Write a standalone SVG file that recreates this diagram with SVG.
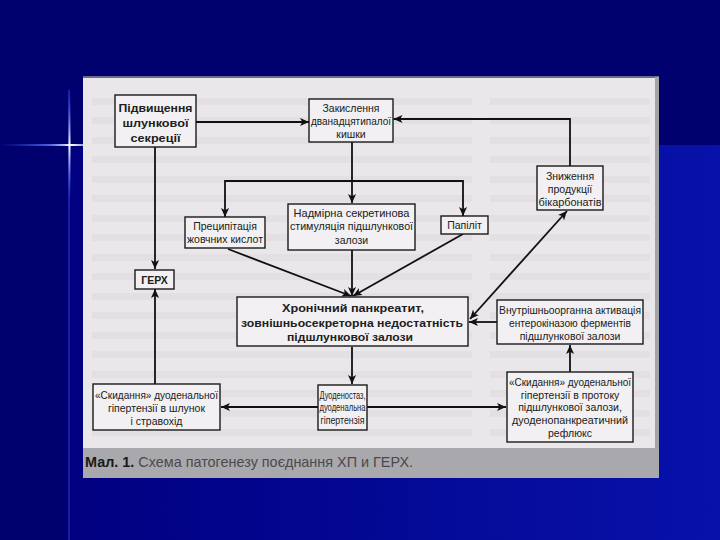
<svg xmlns="http://www.w3.org/2000/svg" width="720" height="540" viewBox="0 0 720 540">
<defs>
<linearGradient id="bgLow" x1="0" y1="0" x2="1" y2="0">
<stop offset="0" stop-color="#000080"/>
<stop offset="1" stop-color="#0812aa"/>
</linearGradient>
<linearGradient id="hStar" x1="0" y1="0" x2="1" y2="0">
<stop offset="0" stop-color="#3050ff" stop-opacity="0"/>
<stop offset="0.6" stop-color="#6080ff" stop-opacity="0.8"/>
<stop offset="0.85" stop-color="#ffffff"/>
<stop offset="1" stop-color="#ffffff" stop-opacity="0.6"/>
</linearGradient>
<linearGradient id="vStar" x1="0" y1="0" x2="0" y2="1">
<stop offset="0" stop-color="#3050ff" stop-opacity="0"/>
<stop offset="0.5" stop-color="#ffffff"/>
<stop offset="1" stop-color="#3050ff" stop-opacity="0"/>
</linearGradient>
<marker id="arr" viewBox="0 0 10 10" refX="10" refY="5" markerUnits="userSpaceOnUse" markerWidth="9" markerHeight="9" orient="auto-start-reverse">
<path d="M0,0.5 L10,5 L0,9.5 L2.5,5 z" fill="#111"/>
</marker>
<style>
.box{fill:#f2f0f2;stroke:#1a1a1a;stroke-width:1.4}
.t{font-family:"Liberation Sans",Arial,sans-serif;font-size:10.5px;fill:#202020;text-anchor:middle}
.b{font-weight:bold}
.c{stroke:#111;stroke-width:1.8;fill:none}
.g{fill:#cfccd2;opacity:0.28}
</style>
</defs>
<!-- background -->
<rect x="0" y="0" width="720" height="540" fill="#00006e"/>
<rect x="69" y="145" width="651" height="395" fill="url(#bgLow)"/>
<rect x="68" y="90" width="2" height="450" fill="#2a3ad0" opacity="0.55"/>
<rect x="0" y="144" width="84" height="2" fill="url(#hStar)"/>
<rect x="68.5" y="88" width="2" height="115" fill="url(#vStar)"/>
<!-- scanned paper -->
<rect x="83" y="77" width="576" height="401" fill="#eae7eb"/>
<rect x="83" y="76" width="576" height="2" fill="#6a6a8a"/>
<rect x="655" y="77" width="4" height="401" fill="#a4a3a8"/>
<g id="ghost">
<rect class="g" x="92" y="98" width="380" height="7"/><rect class="g" x="490" y="98" width="160" height="7"/>
<rect class="g" x="92" y="117" width="380" height="7"/><rect class="g" x="490" y="117" width="160" height="7"/>
<rect class="g" x="92" y="137" width="380" height="7"/><rect class="g" x="490" y="137" width="160" height="7"/>
<rect class="g" x="92" y="156" width="380" height="7"/><rect class="g" x="490" y="156" width="160" height="7"/>
<rect class="g" x="92" y="176" width="380" height="7"/><rect class="g" x="490" y="176" width="160" height="7"/>
<rect class="g" x="92" y="195" width="380" height="7"/><rect class="g" x="490" y="195" width="160" height="7"/>
<rect class="g" x="92" y="215" width="380" height="7"/><rect class="g" x="490" y="215" width="160" height="7"/>
<rect class="g" x="92" y="234" width="380" height="7"/><rect class="g" x="490" y="234" width="160" height="7"/>
<rect class="g" x="92" y="254" width="380" height="7"/><rect class="g" x="490" y="254" width="160" height="7"/>
<rect class="g" x="92" y="273" width="380" height="7"/><rect class="g" x="490" y="273" width="160" height="7"/>
<rect class="g" x="92" y="293" width="380" height="7"/><rect class="g" x="490" y="293" width="160" height="7"/>
<rect class="g" x="92" y="312" width="380" height="7"/><rect class="g" x="490" y="312" width="160" height="7"/>
<rect class="g" x="92" y="332" width="380" height="7"/><rect class="g" x="490" y="332" width="160" height="7"/>
<rect class="g" x="92" y="351" width="380" height="7"/><rect class="g" x="490" y="351" width="160" height="7"/>
<rect class="g" x="92" y="371" width="380" height="7"/><rect class="g" x="490" y="371" width="160" height="7"/>
<rect class="g" x="92" y="390" width="380" height="7"/><rect class="g" x="490" y="390" width="160" height="7"/>
<rect class="g" x="92" y="410" width="380" height="7"/><rect class="g" x="490" y="410" width="160" height="7"/>
<rect class="g" x="92" y="429" width="380" height="7"/><rect class="g" x="490" y="429" width="160" height="7"/>
</g>
<!-- caption band -->
<rect x="83" y="448" width="576" height="30" fill="#a9a8ac"/>
<text x="85" y="467" font-family="'Liberation Sans',Arial,sans-serif" font-size="14.5" fill="#2a2a2a" textLength="328" lengthAdjust="spacingAndGlyphs"><tspan font-weight="bold" fill="#1a1a1a">Мал. 1.</tspan><tspan fill="#4a4a4e"> Схема патогенезу поєднання ХП и ГЕРХ.</tspan></text>

<!-- connectors -->
<g id="connectors">
<path class="c" d="M196,122 H309" marker-end="url(#arr)"/>
<path class="c" d="M570,166 V119 H393.5" marker-end="url(#arr)"/>
<path class="c" d="M352,142 V203" marker-end="url(#arr)"/>
<path class="c" d="M352,181 H225 V217" marker-end="url(#arr)"/>
<path class="c" d="M352,181 H463 V216" marker-end="url(#arr)"/>
<path class="c" d="M228,249 L351,296" marker-end="url(#arr)"/>
<path class="c" d="M352,250 V296" marker-end="url(#arr)"/>
<path class="c" d="M463,234 L353,296" marker-end="url(#arr)"/>
<path class="c" d="M497,322 H469" marker-end="url(#arr)"/>
<path class="c" d="M470,319 L567,211" marker-start="url(#arr)" marker-end="url(#arr)"/>
<path class="c" d="M570,372 V345" marker-end="url(#arr)"/>
<path class="c" d="M352,347 V384" marker-end="url(#arr)"/>
<path class="c" d="M318,407 H221" marker-end="url(#arr)"/>
<path class="c" d="M367,407 H506" marker-end="url(#arr)"/>
<path class="c" d="M155,384 V289" marker-end="url(#arr)"/>
<path class="c" d="M155,147 V269" marker-end="url(#arr)"/>
</g>

<!-- nodes -->
<g id="n-pidvyshchennia">
<rect class="box" x="115" y="95" width="81" height="52"/>
<text class="t b" font-size="13" x="155.5" y="112" textLength="74" lengthAdjust="spacingAndGlyphs">Підвищення</text>
<text class="t b" font-size="13" x="155.5" y="127" textLength="66" lengthAdjust="spacingAndGlyphs">шлункової</text>
<text class="t b" font-size="13" x="155.5" y="142" textLength="50" lengthAdjust="spacingAndGlyphs">секреції</text>
</g>
<g id="n-zakyslennia">
<rect class="box" x="309" y="99" width="84" height="43"/>
<text class="t" x="351" y="112" textLength="57" lengthAdjust="spacingAndGlyphs">Закислення</text>
<text class="t" x="351" y="125" textLength="80" lengthAdjust="spacingAndGlyphs">дванадцятипалої</text>
<text class="t" x="351" y="138">кишки</text>
</g>
<g id="n-znyzhennia">
<rect class="box" x="537" y="166" width="66" height="44"/>
<text class="t" x="570" y="180">Зниження</text>
<text class="t" x="570" y="193">продукції</text>
<text class="t" x="570" y="206" textLength="63" lengthAdjust="spacingAndGlyphs">бікарбонатів</text>
</g>
<g id="n-pretsypitatsiia">
<rect class="box" x="185" y="217" width="80" height="31"/>
<text class="t" x="225" y="230">Преципітація</text>
<text class="t" x="225" y="243" textLength="76" lengthAdjust="spacingAndGlyphs">жовчних кислот</text>
</g>
<g id="n-nadmirna">
<rect class="box" x="288" y="204" width="127" height="46"/>
<text class="t" x="351.5" y="217" textLength="116" lengthAdjust="spacingAndGlyphs">Надмірна секретинова</text>
<text class="t" x="351.5" y="230" textLength="123" lengthAdjust="spacingAndGlyphs">стимуляція підшлункової</text>
<text class="t" x="351.5" y="244">залози</text>
</g>
<g id="n-papilit">
<rect class="box" x="441" y="216" width="47" height="18"/>
<text class="t" x="464.5" y="229">Папіліт</text>
</g>
<g id="n-gerkh">
<rect class="box" x="135" y="270" width="39" height="19"/>
<text class="t b" font-size="11.5" x="154.5" y="284">ГЕРХ</text>
</g>
<g id="n-khronichnyi">
<rect class="box" x="237" y="297" width="231" height="49"/>
<text class="t b" font-size="13" x="353" y="312" textLength="142" lengthAdjust="spacingAndGlyphs">Хронічний панкреатит,</text>
<text class="t b" font-size="13" x="352" y="327" textLength="222" lengthAdjust="spacingAndGlyphs">зовнішньосекреторна недостатність</text>
<text class="t b" font-size="13" x="350" y="341" textLength="126" lengthAdjust="spacingAndGlyphs">підшлункової залози</text>
</g>
<g id="n-vnutrishnoorganna">
<rect class="box" x="497" y="300" width="146" height="44"/>
<text class="t" x="570" y="314" textLength="142" lengthAdjust="spacingAndGlyphs">Внутрішньоорганна активація</text>
<text class="t" x="570" y="327" textLength="122" lengthAdjust="spacingAndGlyphs">ентерокіназою ферментів</text>
<text class="t" x="570" y="340">підшлункової залози</text>
</g>
<g id="n-skydannia-pravo">
<rect class="box" x="507" y="372" width="126" height="70"/>
<text class="t" x="570" y="386" textLength="122" lengthAdjust="spacingAndGlyphs">«Скидання» дуоденальної</text>
<text class="t" x="570" y="399">гіпертензії в протоку</text>
<text class="t" x="570" y="411">підшлункової залози,</text>
<text class="t" x="570" y="424" textLength="116" lengthAdjust="spacingAndGlyphs">дуоденопанкреатичний</text>
<text class="t" x="570" y="437">рефлюкс</text>
</g>
<g id="n-duodenostaz">
<rect class="box" x="318" y="385" width="49" height="45"/>
<text class="t" x="342.5" y="399" textLength="46" lengthAdjust="spacingAndGlyphs">Дуоденостаз,</text>
<text class="t" x="342.5" y="411" textLength="46" lengthAdjust="spacingAndGlyphs">дуоденальна</text>
<text class="t" x="342.5" y="424" textLength="44" lengthAdjust="spacingAndGlyphs">гіпертензія</text>
</g>
<g id="n-skydannia-livo">
<rect class="box" x="93" y="384" width="127" height="46"/>
<text class="t" x="156.5" y="399" textLength="123" lengthAdjust="spacingAndGlyphs">«Скидання» дуоденальної</text>
<text class="t" x="156.5" y="412">гіпертензії в шлунок</text>
<text class="t" x="156.5" y="425">і стравохід</text>
</g>
</svg>
